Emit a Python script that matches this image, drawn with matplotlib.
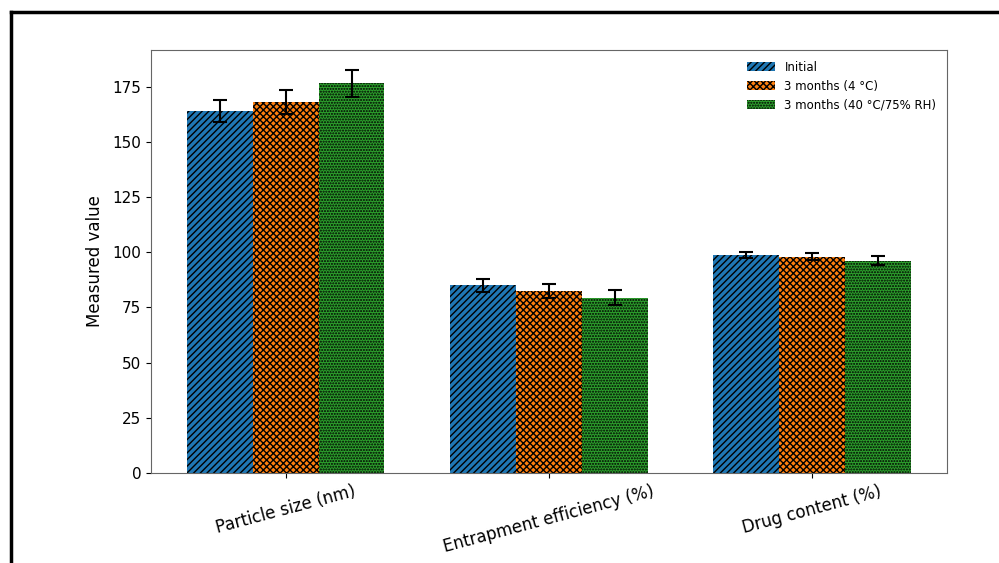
import matplotlib
matplotlib.use("Agg")
import matplotlib.pyplot as plt
from matplotlib.lines import Line2D
import numpy as np

categories = ["Particle size (nm)", "Entrapment efficiency (%)", "Drug content (%)"]
series_names = ["Initial", "3 months (4 °C)", "3 months (40 °C/75% RH)"]
initial = [164.0, 85.0, 98.8]
initial_err = [5.0, 3.0, 1.2]
cold = [168.2, 82.5, 98.0]
cold_err = [5.5, 3.0, 1.5]
hot = [176.5, 79.5, 96.2]
hot_err = [6.0, 3.5, 2.0]

values = [initial, cold, hot]
errors = [initial_err, cold_err, hot_err]
colors = ["#1f77b4", "#ff7f0e", "#2ca02c"]
hatches = ["/////", "xxxxx", "......"]

plt.rcParams["hatch.linewidth"] = 1.0

fig = plt.figure(figsize=(9.99, 5.63), dpi=100)
ax = fig.add_axes([0.151, 0.160, 0.797, 0.751])

x = np.arange(len(categories))
width = 0.25
for i in range(3):
    ax.bar(x + (i - 1) * width, values[i], width, yerr=errors[i],
           color=colors[i], hatch=hatches[i], edgecolor="black", linewidth=0,
           capsize=5, error_kw=dict(elinewidth=1.5, capthick=1.5),
           label=series_names[i])

ax.set_xticks(x)
ax.set_xticklabels(categories, rotation=15, fontsize=12)
ax.tick_params(axis="y", labelsize=11)
ax.set_ylabel("Measured value", fontsize=12, labelpad=6)
for s in ax.spines.values():
    s.set_edgecolor("0.4")
ax.legend(frameon=False, fontsize=8.5, loc="upper right", handlelength=2.4,
          borderaxespad=0.5)

# frame lines on the left and top edges of the figure
fig.add_artist(Line2D([0.011, 0.011], [0, 0.978], color="black", lw=2.5))
fig.add_artist(Line2D([0.011, 1.0], [0.978, 0.978], color="black", lw=2.5))

fig.savefig("out.png", dpi=100)
